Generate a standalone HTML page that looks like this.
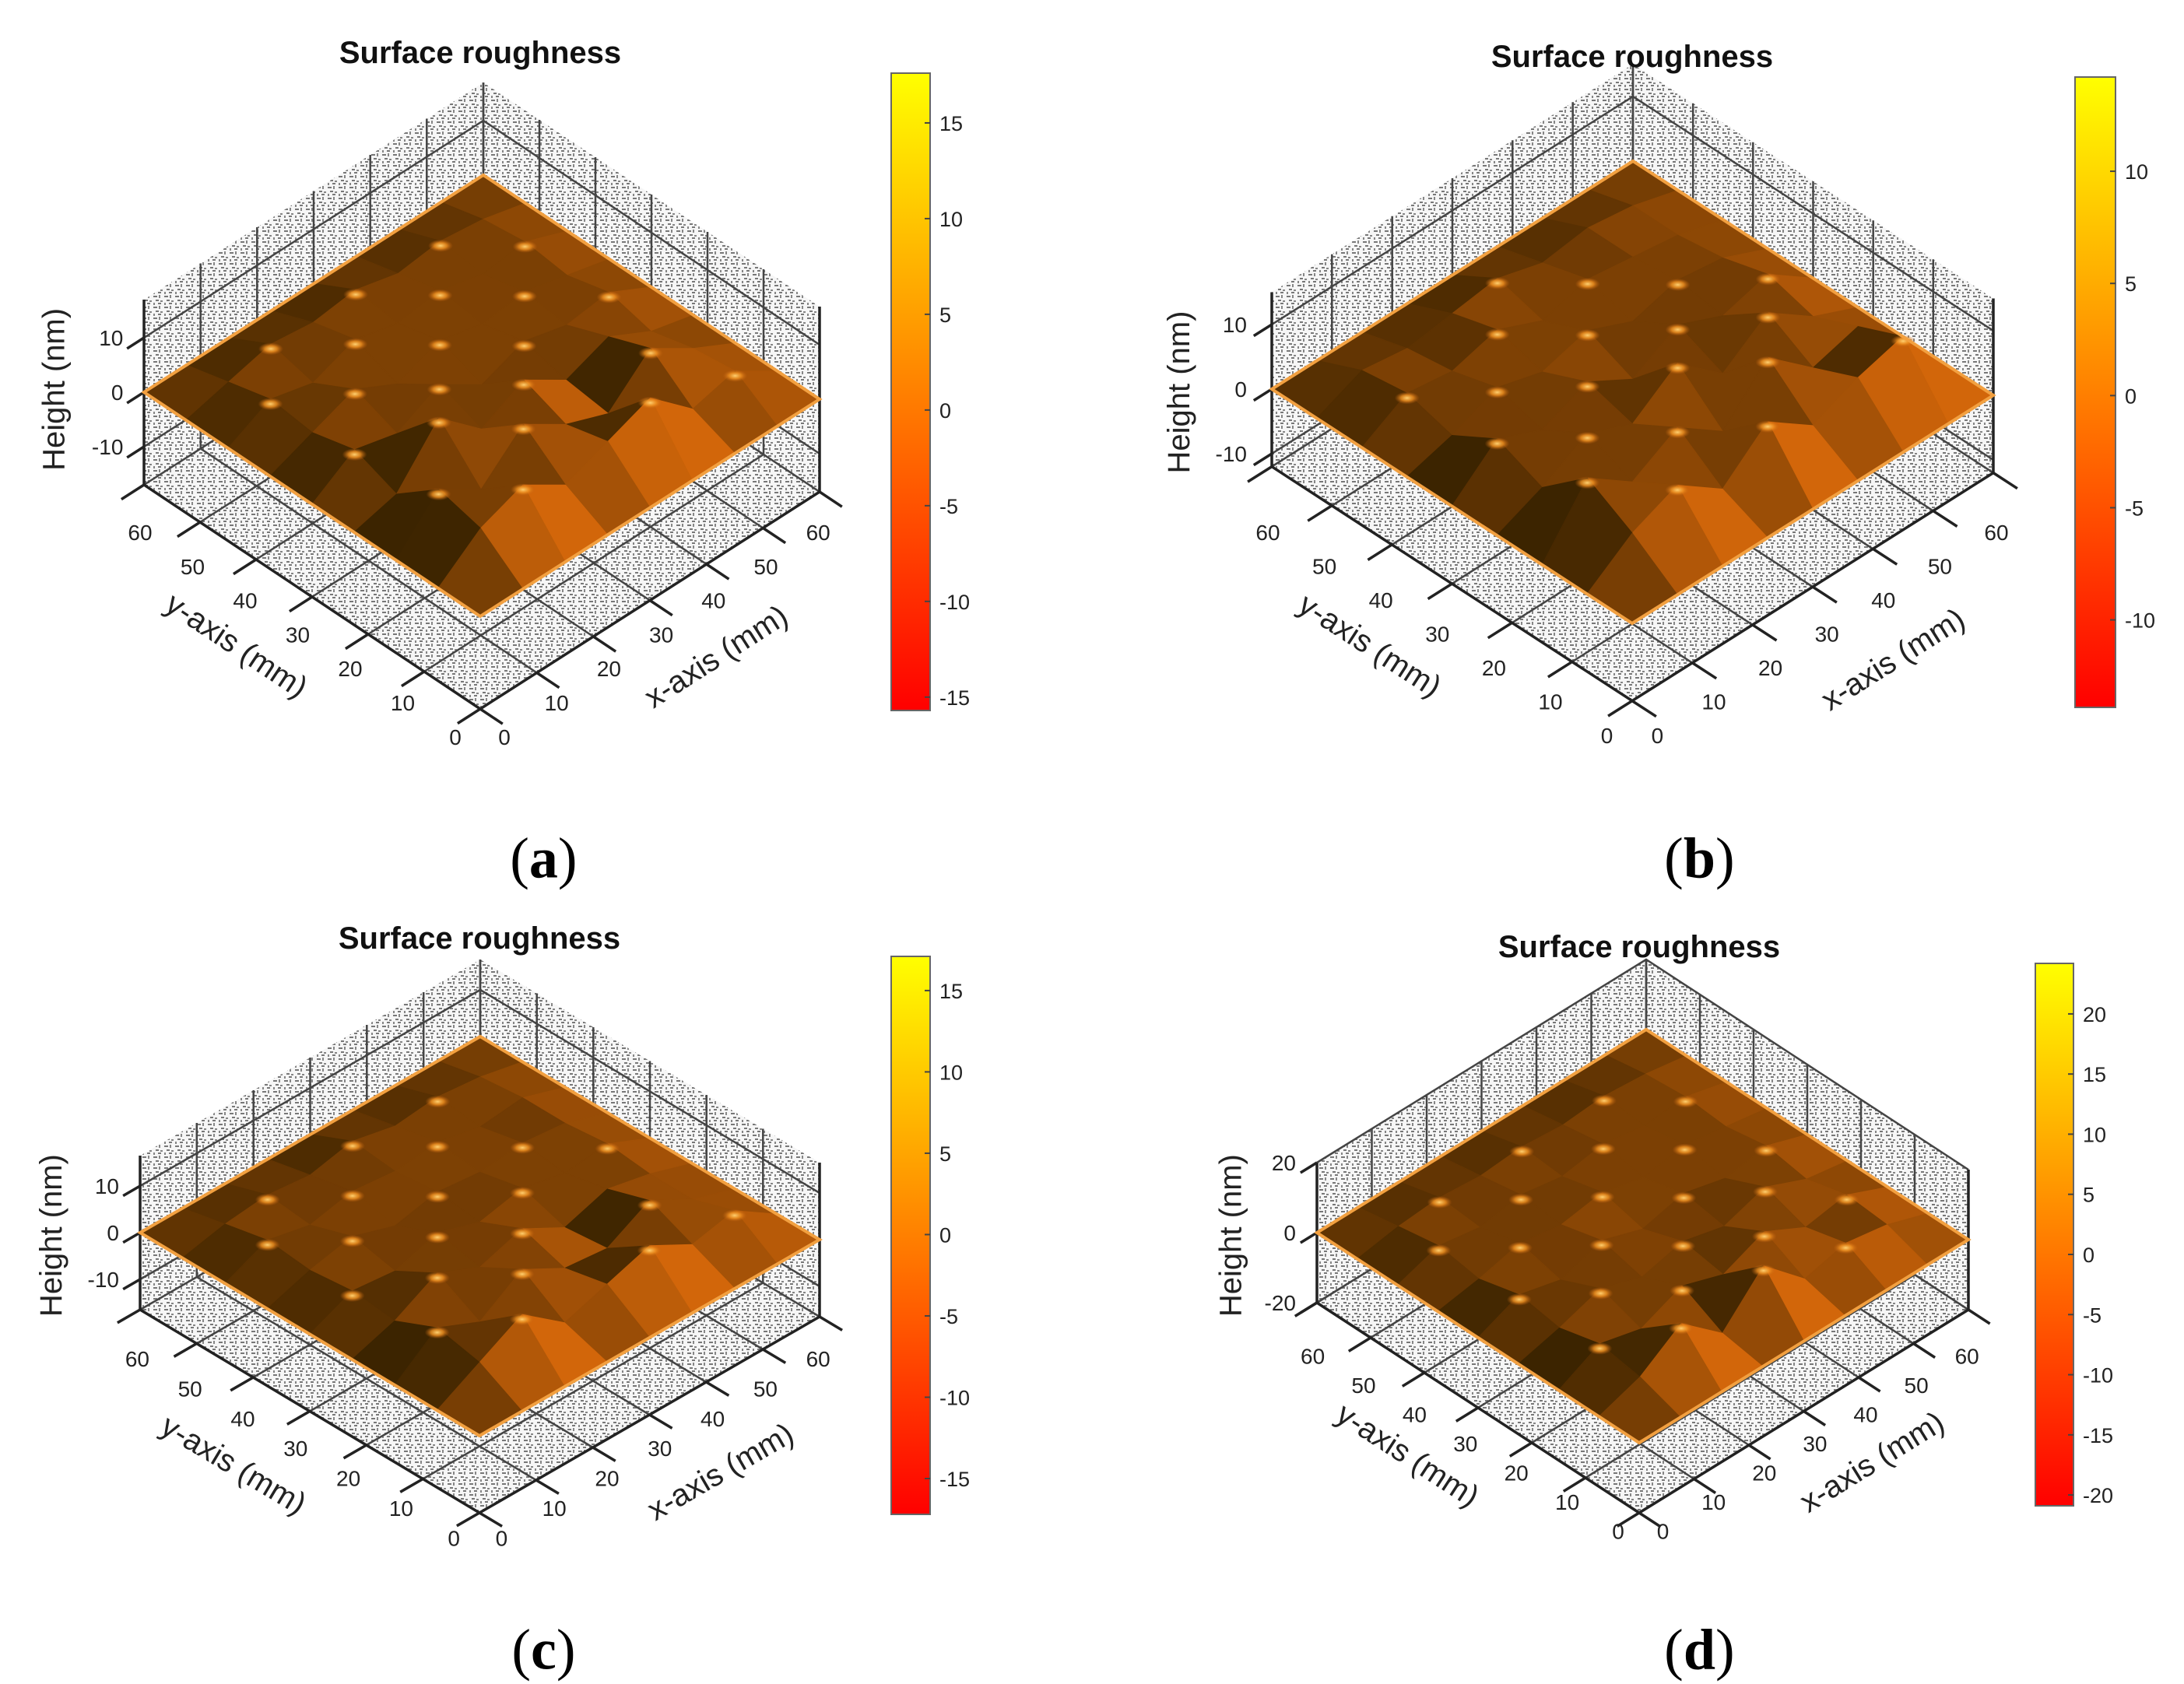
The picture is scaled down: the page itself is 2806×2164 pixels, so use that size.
<!DOCTYPE html>
<html><head><meta charset="utf-8"><style>
html,body{margin:0;padding:0;background:#fff;}
svg{display:block;font-family:"Liberation Sans",sans-serif;}
</style></head><body>
<svg id="fig" width="2806" height="2164" viewBox="0 0 2806 2164" xmlns="http://www.w3.org/2000/svg">
<defs>
<pattern id="speckle" width="14" height="14" patternUnits="userSpaceOnUse">
<rect width="14" height="14" fill="#f6f6f6"/>
<rect x="1" y="2" width="5" height="2" fill="#777"/>
<rect x="8" y="1" width="2" height="4" fill="#868686"/>
<rect x="4" y="7" width="4" height="2" fill="#777"/>
<rect x="10" y="8" width="3" height="2" fill="#858585"/>
<rect x="1" y="11" width="2" height="3" fill="#858585"/>
<rect x="7" y="11" width="4" height="2" fill="#777"/>
</pattern>
<linearGradient id="autumn" x1="0" y1="1" x2="0" y2="0">
<stop offset="0" stop-color="#ff0000"/><stop offset="0.5" stop-color="#ff8000"/><stop offset="1" stop-color="#ffff00"/>
</linearGradient>
<radialGradient id="glint">
<stop offset="0" stop-color="#ffd070"/><stop offset="0.5" stop-color="#f09020" stop-opacity="0.8"/><stop offset="1" stop-color="#c06010" stop-opacity="0"/>
</radialGradient>
</defs>
</svg>
<script>
// ---- data (heights in nm on a 9x9 grid, rows = y 0..60, cols = x 0..60) ----
const gridCoords = [0, 7.5, 15, 22.5, 30, 37.5, 45, 52.5, 60];
const heightsA = [
[0,0,0,0,0,0,0,0,0],
[0,6,9,4,7,10,3,5,0],
[0,8,3,10,5,2,9,4,0],
[0,2,11,4,8,3,6,2,0],
[0,5,3,7,2,5,3,4,0],
[0,3,6,2,5,3,4,2,0],
[0,4,2,5,3,4,2,3,0],
[0,2,4,3,4,2,3,2,0],
[0,0,0,0,0,0,0,0,0]];
const heightsB = [
[0,0,0,0,0,0,0,0,0],
[0,5,8,3,9,4,7,9,0],
[0,9,4,8,3,10,4,6,0],
[0,3,7,4,9,3,8,3,0],
[0,6,3,6,2,6,3,5,0],
[0,2,5,3,5,2,4,3,0],
[0,4,3,5,2,4,3,2,0],
[0,3,2,3,4,2,3,2,0],
[0,0,0,0,0,0,0,0,0]];
const heightsC = [
[0,0,0,0,0,0,0,0,0],
[0,5,10,3,6,9,4,6,0],
[0,7,3,9,4,3,8,3,0],
[0,3,8,4,7,2,5,3,0],
[0,4,3,6,3,5,3,4,0],
[0,3,5,2,4,3,4,3,0],
[0,4,2,4,3,4,2,3,0],
[0,2,3,2,4,2,3,2,0],
[0,0,0,0,0,0,0,0,0]];
const heightsD = [
[0,0,0,0,0,0,0,0,0],
[0,4,12,2,14,3,6,4,0],
[0,6,3,8,4,9,3,5,0],
[0,3,7,3,6,3,7,2,0],
[0,5,2,6,2,5,2,4,0],
[0,2,5,3,5,2,4,2,0],
[0,4,2,4,2,4,2,3,0],
[0,2,3,2,3,2,3,2,0],
[0,0,0,0,0,0,0,0,0]];
const axisTicks = [0, 10, 20, 30, 40, 50, 60];
const zTicksA = [-10, 0, 10];
const zTicksB = [-10, 0, 10];
const zTicksC = [-10, 0, 10];
const zTicksD = [-20, 0, 20];
const cbarTicksA = [15, 10, 5, 0, -5, -10, -15];
const cbarTicksB = [10, 5, 0, -5, -10];
const cbarTicksC = [15, 10, 5, 0, -5, -10, -15];
const cbarTicksD = [20, 15, 10, 5, 0, -5, -10, -15, -20];
const cbarRangeA = [-15.7, 17.6];
const cbarRangeB = [-13.9, 14.2];
const cbarRangeC = [-17.2, 17.1];
const cbarRangeD = [-20.9, 24.2];

// ---- layout (pixel geometry) ----
const S = 1.8;
const panels = [
 {id:'a', H:heightsA, zt:zTicksA, ct:cbarTicksA, cr:cbarRangeA,
  T:[617,220], L:[185,504], R:[1053,513], B:[617,792], k:7, zmin:-17, zmax:17,
  title:[617,67], cb:[1145,94,50,819],
  xl0:[360,526], xl6:[584,380], yl0:[325,526], yl6:[100,380],
  xt:[512,470], yt:[168,462], ht:[40,278], zlx:88, cap:[388,613]},
 {id:'b', H:heightsB, zt:zTicksB, ct:cbarTicksB, cr:cbarRangeB,
  T:[2097,225], L:[1634,500], R:[2561,508], B:[2097,801], k:8.3, zmin:-12, zmax:15,
  title:[2097,72], cb:[2666,99,52,810],
  xl0:[1183,525], xl6:[1425,380], yl0:[1147,525], yl6:[905,380],
  xt:[1352,472], yt:[977,462], ht:[843,280], zlx:890, cap:[1213,613]},
 {id:'c', H:heightsC, zt:zTicksC, ct:cbarTicksC, cr:cbarRangeC,
  T:[616,1341], L:[180,1584], R:[1053,1593], B:[616,1845], k:6, zmin:-16.5, zmax:16.5,
  title:[616,1205], cb:[1145,1229,50,717],
  xl0:[358,1098], xl6:[584,970], yl0:[324,1098], yl6:[98,970],
  xt:[515,1052], yt:[166,1047], ht:[38,882], zlx:85, cap:[388,1178]},
 {id:'d', H:heightsD, zt:zTicksD, ct:cbarTicksD, cr:cbarRangeD,
  T:[2106,1332], L:[1692,1584], R:[2529,1593], B:[2106,1854], k:4.5, zmin:-20, zmax:20,
  title:[2106,1216], cb:[2615,1238,49,697],
  xl0:[1187,1093], xl6:[1404,968], yl0:[1155,1093], yl6:[937,968],
  xt:[1337,1045], yt:[1004,1040], ht:[880,882], zlx:925, cap:[1213,1178]}
];

const NS = 'http://www.w3.org/2000/svg';
const svg = document.getElementById('fig');
function mk(tag, attrs, parent){
  const e = document.createElementNS(NS, tag);
  for (const a in attrs) e.setAttribute(a, attrs[a]);
  (parent||svg).appendChild(e);
  return e;
}
function pts(arr){ return arr.map(p=>p[0].toFixed(1)+','+p[1].toFixed(1)).join(' '); }
function clamp(v,a,b){ return Math.max(a, Math.min(b, v)); }

panels.forEach(P=>{
  const g = mk('g', {});
  
  
  const proj = (x,y,z)=>[
    P.B[0] + x/60*(P.R[0]-P.B[0]) + y/60*(P.L[0]-P.B[0]),
    P.B[1] + x/60*(P.R[1]-P.B[1]) + y/60*(P.L[1]-P.B[1]) - z*P.k];
  const zs = P.zmin, ze = P.zmax;
  const wall1 = mk('polygon', {points: pts([proj(0,60,zs),proj(60,60,zs),proj(60,60,ze),proj(0,60,ze)]), fill:'url(#speckle)'}, g);
  
  
  const wall2 = mk('polygon', {points: pts([proj(60,0,zs),proj(60,60,zs),proj(60,60,ze),proj(60,0,ze)]), fill:'url(#speckle)'}, g);
  
  
  const floor = mk('polygon', {points: pts([proj(0,0,zs),proj(60,0,zs),proj(60,60,zs),proj(0,60,zs)]), fill:'url(#speckle)'}, g);
  
  
  const gl = mk('g', {stroke:'#444', 'stroke-width':2.5, fill:'none'}, g);
  
  
  axisTicks.forEach(v=>{
    mk('polyline', {points: pts([proj(v,0,zs),proj(v,60,zs),proj(v,60,ze)])}, gl);
    mk('polyline', {points: pts([proj(0,v,zs),proj(60,v,zs),proj(60,v,ze)])}, gl);
  });
  P.zt.forEach(z=>{
    mk('polyline', {points: pts([proj(0,60,z),proj(60,60,z),proj(60,0,z)])}, gl);
  });
  const ax = mk('g', {stroke:'#222', 'stroke-width':3.5, fill:'none'}, g);
  
  
  mk('polyline', {points: pts([proj(0,60,ze),proj(0,60,zs),proj(0,0,zs),proj(60,0,zs),proj(60,0,ze)])}, ax);
  axisTicks.forEach(v=>{
    const a = proj(v,0,zs), b = proj(v,-4,zs);
    mk('line', {x1:a[0],y1:a[1],x2:b[0],y2:b[1]}, ax);
    const c = proj(0,v,zs), d = proj(-4,v,zs);
    mk('line', {x1:c[0],y1:c[1],x2:d[0],y2:d[1]}, ax);
  });
  P.zt.forEach(z=>{
    const a = proj(0,60,z), b = proj(-3,60,z);
    mk('line', {x1:a[0],y1:a[1],x2:b[0],y2:b[1]}, ax);
  });
  // surface
  const sg = mk('g', {'stroke-width':1.2, 'stroke-linejoin':'round'}, g);
  
  
  const n = gridCoords.length;
  const cells = [];
  for (let r=0;r<n-1;r++) for (let c=0;c<n-1;c++) cells.push([r,c]);
  cells.sort((p,q)=>(q[0]+q[1])-(p[0]+p[1]));
  const H = P.H;
  cells.forEach(([r,c])=>{
    const z00=H[r][c], z10=H[r][c+1], z01=H[r+1][c], z11=H[r+1][c+1];
    const x0=gridCoords[c], x1=gridCoords[c+1], y0=gridCoords[r], y1=gridCoords[r+1];
    const gx=(z10+z11-z00-z01)/2, gy=(z01+z11-z00-z10)/2;
    const zavg=(z00+z10+z01+z11)/4;
    const t = clamp(0.38 + 0.07*(gy - gx) + 0.015*zavg, 0, 1);
    const rr = Math.round(60 + 150*t), gg = Math.round(36 + 66*t), bb = Math.round(0 + 10*t);
    const col = 'rgb('+rr+','+gg+','+bb+')';
    const poly = mk('polygon', {points: pts([proj(x0,y0,z00),proj(x1,y0,z10),proj(x1,y1,z11),proj(x0,y1,z01)]), fill:col, stroke:col}, sg);
    
    
  });
  // specular glints at local maxima
  for (let r=1;r<n-1;r++) for (let c=1;c<n-1;c++){
    const z = H[r][c];
    if (z > H[r-1][c] && z > H[r+1][c] && z > H[r][c-1] && z > H[r][c+1]){
      const p = proj(gridCoords[c], gridCoords[r], z);
      const gd = mk('ellipse', {cx:p[0], cy:p[1]+6, rx:16, ry:8, fill:'url(#glint)'}, sg);
      
      
    }
  }
  const edge = mk('polygon', {points: pts([proj(0,0,0),proj(60,0,0),proj(60,60,0),proj(0,60,0)]), fill:'none', stroke:'#f2a040', 'stroke-width':4}, g);
  
  
  const ti = mk('text', {x:P.title[0], y:P.title[1]+14, 'text-anchor':'middle', 'font-size':40, 'font-weight':'bold', fill:'#111'}, g);
  ti.textContent = 'Surface roughness';
  
  
  P.zt.forEach(z=>{
    const p = proj(0,60,z);
    const tl = mk('text', {x:P.zlx*S, y:p[1]+10, 'text-anchor':'end', 'font-size':28, fill:'#222'}, g);
    tl.textContent = String(z);
    
    
  });
  axisTicks.forEach(v=>{
    const f = v/60;
    const xl = mk('text', {x:S*(P.xl0[0]+f*(P.xl6[0]-P.xl0[0])), y:S*(P.xl0[1]+f*(P.xl6[1]-P.xl0[1]))+10, 'text-anchor':'middle', 'font-size':28, fill:'#222'}, g);
    xl.textContent = String(v);
    
    
    const yl = mk('text', {x:S*(P.yl0[0]+f*(P.yl6[0]-P.yl0[0])), y:S*(P.yl0[1]+f*(P.yl6[1]-P.yl0[1]))+10, 'text-anchor':'middle', 'font-size':28, fill:'#222'}, g);
    yl.textContent = String(v);
    
    
  });
  const angX = Math.atan2(P.R[1]-P.B[1], P.R[0]-P.B[0])*180/Math.PI;
  const angY = Math.atan2(P.B[1]-P.L[1], P.B[0]-P.L[0])*180/Math.PI;
  const xt = mk('text', {x:S*P.xt[0], y:S*P.xt[1], 'text-anchor':'middle', 'dominant-baseline':'middle', 'font-size':40, fill:'#222', transform:'rotate('+angX.toFixed(1)+' '+(S*P.xt[0])+' '+(S*P.xt[1])+')'}, g);
  xt.textContent = 'x-axis (mm)';
  
  
  const yt = mk('text', {x:S*P.yt[0], y:S*P.yt[1], 'text-anchor':'middle', 'dominant-baseline':'middle', 'font-size':40, fill:'#222', transform:'rotate('+angY.toFixed(1)+' '+(S*P.yt[0])+' '+(S*P.yt[1])+')'}, g);
  yt.textContent = 'y-axis (mm)';
  
  
  const ht = mk('text', {x:S*P.ht[0], y:S*P.ht[1], 'text-anchor':'middle', 'dominant-baseline':'middle', 'font-size':40, fill:'#222', transform:'rotate(-90 '+(S*P.ht[0])+' '+(S*P.ht[1])+')'}, g);
  ht.textContent = 'Height (nm)';
  
  
  const [cx,cy,cw,ch] = P.cb;
  const cbar = mk('rect', {x:cx, y:cy, width:cw, height:ch, fill:'url(#autumn)', stroke:'#666', 'stroke-width':2}, g);
  
  
  const cyOf = v => cy + ch*(P.cr[1]-v)/(P.cr[1]-P.cr[0]);
  P.ct.forEach(v=>{
    const yy = cyOf(v);
    const tk = mk('line', {x1:cx+cw-7, y1:yy, x2:cx+cw, y2:yy, stroke:'#444', 'stroke-width':2}, g);
    
    
    const lb = mk('text', {x:cx+cw+12, y:yy+10, 'font-size':27, fill:'#222'}, g);
    lb.textContent = String(v);
    
    
  });
  const cap = mk('text', {x:S*P.cap[0], y:S*P.cap[1]+24, 'text-anchor':'middle', 'font-size':74, fill:'#000', 'font-family':'"Liberation Serif", serif'}, g);
  
  
  const t1 = mk('tspan', {}, cap); t1.textContent = '(';
  const t2 = mk('tspan', {'font-weight':'bold'}, cap); t2.textContent = P.id;
  const t3 = mk('tspan', {}, cap); t3.textContent = ')';
});
</script>
</body></html>
